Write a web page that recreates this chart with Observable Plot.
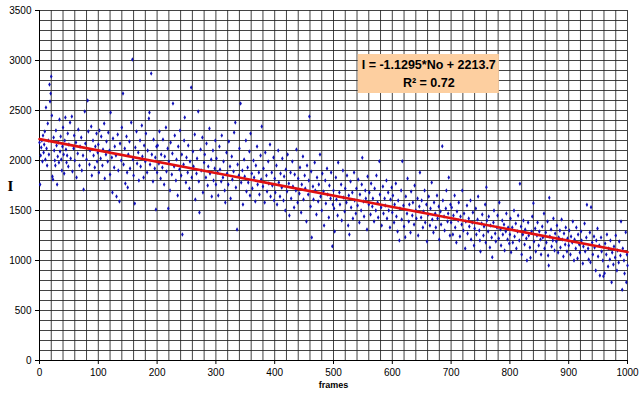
<!DOCTYPE html>
<html>
<head>
<meta charset="utf-8">
<script src="https://cdn.jsdelivr.net/npm/d3@7"></script>
<script src="https://cdn.jsdelivr.net/npm/@observablehq/plot@0.6"></script>
<style>
  html, body { margin: 0; padding: 0; background: #fff; }
  #chart svg { display: block; }
</style>
</head>
<body>
<div id="chart"></div>
<script>
// ---- data (frame, intensity) ----
const block0 = [[0,2180],[1,1760],[2,2050],[3,2130],[4,2200],[5,1990],[6,2250],[7,2080],[8,2160],[9,2290],[10,2010],[11,2530],[12,2120],[13,1950],[14,2370],[15,2200],[16,2060],[17,2760],[18,2590],[19,2670],[20,2840],[21,2450],[22,1840],[23,1810],[24,2230],[25,2100],[26,2000],[27,1950],[28,2300],[29,2150],[30,1760],[31,2040],[32,2180],[33,1980],[34,2410],[35,2090],[36,2240],[37,2010],[38,1900],[39,2140],[40,2330],[41,2060],[42,1870],[43,2200],[44,2430],[45,2110],[46,1980],[47,2050],[48,2270],[49,1940],[50,2160],[52,2380],[53,2020],[55,2440],[56,1890],[58,2120],[59,2250],[60,2000],[62,2180],[63,1830],[65,2070],[66,2310],[68,1950],[69,2140],[71,2230],[72,1900],[74,2050],[75,1710],[77,2490],[78,2170],[80,2010],[82,2600],[83,2290],[85,1960],[86,2100],[88,2340],[89,1850],[91,2200],[92,2050],[94,1930],[95,2140],[97,2270],[98,1990],[99,2080]];
const block1 = [[100,2160],[101,1880],[102,2300],[104,2020],[105,2240],[107,1950],[108,2110],[110,2370],[111,1820],[113,2060],[114,2190],[116,1990],[117,2280],[119,2100],[120,1860],[121,2480],[123,2030],[124,1680],[125,2220],[127,1930],[128,2140],[130,2050],[131,1640],[133,2260],[134,1900],[136,1590],[137,2170],[139,2000],[140,2330],[142,2670],[143,1960],[145,2120],[146,1770],[148,2240],[149,1880],[150,1730],[151,2060],[153,2190],[154,1920],[156,2380],[158,3010],[159,2010],[160,1850],[162,1570],[163,2130],[165,2290],[166,1970],[168,2080],[169,1800],[171,2200],[172,1940],[174,2350],[175,2040],[177,1830],[178,2150],[180,1990],[181,2270],[183,1880],[184,2100],[186,2420],[187,2480],[188,1960],[190,2870],[191,2060],[193,1790],[194,2210],[196,1920],[197,2030],[198,1510],[199,2140]];
const block2 = [[200,1880],[201,2150],[203,1970],[204,2290],[206,1820],[207,2060],[209,1930],[210,2210],[212,1760],[213,2040],[215,2330],[216,1890],[218,2120],[219,1520],[220,1990],[222,1700],[223,2180],[225,1860],[226,2070],[227,2570],[229,1940],[230,2250],[232,1800],[233,2010],[235,1650],[236,2140],[238,1910],[239,2300],[241,1850],[242,2060],[243,1260],[245,1960],[246,2200],[247,2430],[249,1780],[250,2030],[252,1880],[253,2150],[255,1720],[256,1990],[258,2730],[259,1830],[261,2090],[262,1940],[264,2260],[265,1610],[267,1870],[268,2020],[270,2490],[271,1790],[272,1480],[274,2110],[275,1900],[277,2230],[278,1680],[280,1980],[281,2060],[283,1830],[284,2170],[286,1750],[287,1940],[289,2320],[290,1870],[292,2010],[293,1640],[295,2100],[296,1800],[298,1920],[299,2200]];
const block3 = [[300,1760],[301,2020],[303,1880],[304,1650],[306,2140],[307,1910],[309,1790],[310,2250],[312,1830],[313,1990],[315,1700],[316,1580],[318,2080],[319,1870],[321,1760],[322,2190],[324,1940],[325,1620],[327,2040],[328,1810],[330,1890],[331,2280],[333,2380],[334,1730],[336,1310],[337,1960],[339,1850],[340,2120],[342,2570],[343,1780],[345,1900],[346,1560],[348,2010],[349,1840],[351,2200],[352,1690],[354,1930],[355,1780],[357,2090],[358,1650],[359,2270],[361,1870],[362,1720],[364,2000],[365,1830],[367,1590],[368,1950],[370,2140],[371,1760],[373,1880],[374,1660],[376,2050],[377,1810],[378,2340],[380,1740],[381,1920],[383,1580],[384,2080],[386,1850],[387,1690],[389,1990],[390,1770],[392,2160],[393,1640],[395,1880],[396,1750],[398,2030],[399,1600]];
const block4 = [[400,1820],[401,1680],[403,1950],[404,1560],[406,2100],[407,1780],[409,1640],[410,1870],[412,1730],[413,2020],[415,1600],[416,1840],[418,1500],[419,1910],[421,1690],[422,2060],[424,1770],[425,1450],[427,1880],[428,1620],[430,1990],[431,1740],[433,1530],[434,1860],[436,1700],[437,2110],[439,1580],[440,1820],[442,1670],[443,1930],[445,1480],[446,1760],[448,2040],[449,1610],[451,1850],[452,1720],[454,1390],[455,1950],[457,1660],[458,1800],[459,2440],[461,1540],[462,1890],[463,1230],[465,1740],[466,1610],[468,1980],[469,1700],[471,1460],[472,1830],[474,1590],[475,1760],[477,2060],[478,1640],[480,1500],[481,1870],[483,1690],[484,1350],[486,1800],[487,1570],[489,1920],[490,1660],[492,1430],[493,1750],[495,1620],[496,1880],[498,1143],[499,1560]];
const block5 = [[500,1700],[501,1520],[502,1290],[504,1830],[505,1610],[507,1450],[508,1980],[510,1680],[511,1560],[513,1760],[514,1400],[516,1900],[517,1630],[519,1490],[520,1720],[522,1580],[523,1850],[525,1350],[526,1650],[527,1260],[529,1790],[530,1530],[532,1680],[533,1420],[535,1880],[536,1600],[538,1470],[539,1720],[541,1550],[542,1810],[544,1380],[545,1660],[547,1500],[548,1760],[549,2027],[551,1590],[552,1440],[554,1700],[555,1620],[557,1310],[558,1840],[560,1560],[561,1680],[563,1460],[564,1770],[566,1540],[567,1620],[569,1390],[570,1720],[572,1500],[573,1850],[575,1580],[576,1430],[578,1993],[579,1660],[581,1530],[582,1350],[584,1740],[585,1470],[587,1620],[588,1550],[590,1800],[591,1420],[593,1680],[594,1500],[596,1330],[597,1610],[599,1730]];
const block6 = [[600,1480],[601,1650],[603,1380],[604,1560],[606,1770],[607,1440],[609,1290],[610,1600],[612,1200],[613,1520],[615,1700],[616,1410],[617,1993],[619,1550],[620,1340],[622,1233],[623,1640],[625,1470],[626,1820],[628,1390],[629,1560],[631,1280],[632,1690],[634,1450],[635,1580],[637,1360],[638,1750],[640,1500],[641,1420],[643,1620],[644,1250],[646,1540],[647,1880],[649,1430],[650,1600],[652,1330],[653,1490],[655,1700],[656,1380],[658,1560],[659,1190],[661,1460],[662,1640],[664,1350],[665,1520],[667,1780],[668,1410],[670,1280],[671,1580],[673,1470],[674,1330],[676,1650],[677,1420],[679,1540],[680,1210],[682,1490],[683,1360],[685,2143],[686,1600],[688,1440],[689,1300],[691,1520],[692,1700],[694,1390],[695,1470],[696,1830],[698,1250],[699,1560]];
const block7 = [[700,1380],[701,1530],[703,1260],[704,1450],[706,1650],[707,1330],[709,1180],[710,1490],[712,1400],[713,1580],[715,1240],[716,1440],[718,1360],[719,1700],[721,1300],[722,1470],[724,1120],[725,1390],[727,1550],[728,1270],[730,1420],[731,1340],[733,1600],[734,1210],[736,1380],[737,1480],[739,1150],[740,1320],[742,1520],[743,1260],[745,1410],[746,1640],[748,1300],[749,1200],[750,1090],[752,1370],[753,1460],[755,1250],[756,1340],[758,1560],[759,1180],[760,1733],[761,1400],[763,1290],[764,1440],[766,1130],[767,1350],[769,1230],[770,1033],[772,1380],[773,1500],[775,1270],[776,1190],[778,1330],[779,1450],[781,1220],[782,1580],[784,1310],[785,1150],[787,1400],[788,1260],[790,1360],[791,1100],[793,1290],[794,1470],[796,1210],[797,1330],[799,1170]];
const block8 = [[800,1260],[801,1420],[802,1083],[804,1330],[805,1180],[807,1500],[808,1240],[810,1370],[811,1120],[813,1290],[814,1450],[816,1200],[817,1767],[819,1340],[820,1060],[822,1260],[823,1400],[825,1160],[826,1310],[828,1220],[829,1000],[831,1380],[832,1250],[834,1130],[835,1027],[837,1290],[838,1440],[840,1573],[841,1190],[843,1320],[844,1090],[846,1250],[847,1380],[849,1150],[850,1290],[852,1210],[853,1060],[855,1340],[856,1230],[858,1470],[859,1120],[861,1280],[862,1180],[864,1390],[865,1050],[866,950],[867,1627],[868,1240],[870,1310],[871,1140],[873,1200],[874,1420],[876,1100],[877,1270],[879,1190],[880,1350],[882,1080],[883,1230],[885,1300],[886,1130],[888,1410],[889,1210],[891,1040],[892,1270],[894,1160],[895,1330],[897,1090],[898,1220]];
const block9 = [[900,1150],[901,1300],[903,1060],[904,1240],[906,1180],[907,1390],[909,1000],[910,1210],[912,1120],[913,1330],[915,1020],[916,1260],[918,1160],[919,1080],[921,1290],[922,1200],[924,970],[925,1140],[927,1370],[928,1090],[930,1230],[931,1557],[933,1120],[934,1010],[936,1280],[937,983],[938,1533],[940,1180],[941,1060],[943,1240],[944,1130],[946,900],[947,1200],[949,1320],[950,1040],[952,1150],[953,850],[955,1230],[956,1090],[958,1000],[959,843],[961,873],[962,1170],[964,1060],[965,1260],[967,940],[968,1120],[970,1010],[971,1200],[973,783],[974,1080],[976,960],[977,1140],[979,1030],[980,1250],[982,900],[983,1100],[985,980],[986,1190],[988,1050],[989,1390],[991,707],[992,1120],[994,1000],[995,870],[997,1283],[998,783],[999,1060],[1000,950]];

// trend line as printed on the chart
const trendSlope = -1.1295;
const trendIntercept = 2213.7;
const trendFrames = [0, 1000];
const equationText = "I = -1.1295*No + 2213.7";
const r2Text = "R\u00B2 = 0.72";

// axes
const xTicks = [0, 100, 200, 300, 400, 500, 600, 700, 800, 900, 1000];
const yTicks = [0, 500, 1000, 1500, 2000, 2500, 3000, 3500];
const xGridStep = 20;
const yGridStep = 100;
const xLabel = "frames";
const yLabel = "I";

// annotation box (data units)
const boxFrames = [542, 782];
const boxIntensity = [2670, 3060];

// ---- build ----
const points = [].concat(block0, block1, block2, block3, block4, block5, block6, block7, block8, block9)
  .map(([frame, value]) => ({frame, value}));
const trend = trendFrames.map(f => ({frame: f, value: trendIntercept + trendSlope * f}));
const xGrid = d3.range(0, 1000 + 1e-9, xGridStep);
const yGrid = d3.range(0, 3500 + 1e-9, yGridStep);
const boxCenterX = (boxFrames[0] + boxFrames[1]) / 2;
const boxCenterY = (boxIntensity[0] + boxIntensity[1]) / 2;

const chart = Plot.plot({
  width: 640,
  height: 394,
  marginLeft: 39,
  marginRight: 13,
  marginTop: 10,
  marginBottom: 34,
  style: {fontFamily: "'Liberation Sans', Arial, sans-serif", fontSize: "10px", color: "#000", background: "#fff"},
  x: {domain: [0, 1000]},
  y: {domain: [0, 3500]},
  marks: [
    Plot.ruleX(xGrid, {stroke: "#222", strokeWidth: 1, strokeOpacity: 0.85}),
    Plot.ruleY(yGrid, {stroke: "#222", strokeWidth: 1, strokeOpacity: 0.85}),
    Plot.axisX({ticks: xTicks, tickFormat: d => String(d), tickSize: 4, tickPadding: 4, label: null, stroke: "#000"}),
    Plot.axisY({ticks: yTicks, tickFormat: d => String(d), tickSize: 4, tickPadding: 4, label: null, stroke: "#000"}),
    Plot.ruleX([0], {stroke: "#000", strokeWidth: 1}),
    Plot.ruleY([0], {stroke: "#000", strokeWidth: 1}),
    Plot.dot(points, {x: "frame", y: "value", symbol: "diamond", r: 1.35, fill: "#1010b8", stroke: "none"}),
    Plot.line(trend, {x: "frame", y: "value", stroke: "#e01010", strokeWidth: 2.6}),
    Plot.rect([{}], {x1: boxFrames[0], x2: boxFrames[1], y1: boxIntensity[0], y2: boxIntensity[1], fill: "#fdcfa0"}),
    Plot.text([equationText], {x: boxCenterX, y: boxCenterY, dy: -9, fontWeight: "bold", fontSize: 12.5, fill: "#000"}),
    Plot.text([r2Text], {x: boxCenterX, y: boxCenterY, dy: 9, fontWeight: "bold", fontSize: 12.5, fill: "#000"}),
    Plot.text([xLabel], {frameAnchor: "bottom", dy: 27, fontWeight: "bold", fontSize: 9, fill: "#000"}),
    Plot.text([yLabel], {frameAnchor: "left", dx: -32, dy: 1, fontFamily: "'Liberation Serif', 'Times New Roman', serif", fontWeight: "bold", fontSize: 15, fill: "#000"})
  ]
});
document.getElementById("chart").appendChild(chart);
</script>
</body>
</html>
